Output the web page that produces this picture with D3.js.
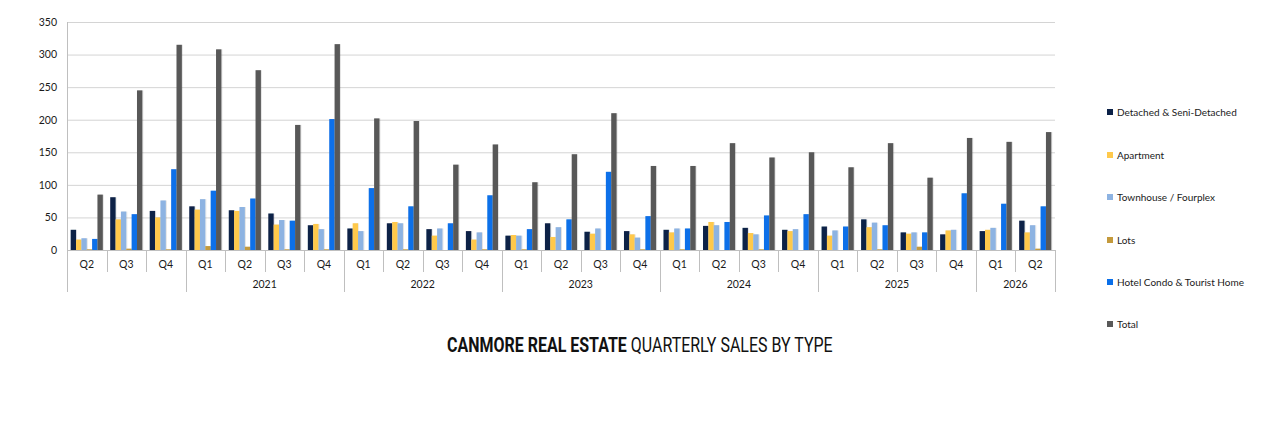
<!DOCTYPE html>
<html>
<head>
<meta charset="utf-8">
<script src="https://cdn.jsdelivr.net/npm/d3@7"></script>
<style>
  html, body { margin: 0; padding: 0; background: #ffffff; }
  svg { display: block; }
</style>
</head>
<body>
<svg id="chart" width="1280" height="421"></svg>
<script>
// ---------- DATA ----------
const quarters = ["Q2","Q3","Q4","Q1","Q2","Q3","Q4","Q1","Q2","Q3","Q4","Q1","Q2","Q3","Q4","Q1","Q2","Q3","Q4","Q1","Q2","Q3","Q4","Q1","Q2"];
const years    = ["2020","2020","2020","2021","2021","2021","2021","2022","2022","2022","2022","2023","2023","2023","2023","2024","2024","2024","2024","2025","2025","2025","2025","2026","2026"];
const yearLabels = [
  {year: "2020", label: ""},
  {year: "2021", label: "2021"},
  {year: "2022", label: "2022"},
  {year: "2023", label: "2023"},
  {year: "2024", label: "2024"},
  {year: "2025", label: "2025"},
  {year: "2026", label: "2026"}
];
const seriesNames = ["Detached & Seni-Detached","Apartment","Townhouse / Fourplex","Lots","Hotel Condo & Tourist Home","Total"];
const detached  = [31,81,60,67,61,56,38,33,41,32,29,22,41,28,29,31,37,34,31,36,47,27,24,29,45];
const apartment = [16,47,50,62,60,39,40,41,43,22,16,23,20,25,24,27,43,26,29,22,35,25,30,31,27];
const townhouse = [18,59,76,78,66,46,32,29,41,33,27,22,35,33,19,33,38,24,32,30,42,27,31,34,38];
const lots      = [1,2,1,6,5,1,1,0,1,0,1,1,0,0,1,1,0,1,0,0,1,5,0,0,2];
const hotel     = [17,55,124,91,79,45,201,95,67,41,84,32,47,120,52,33,43,53,55,36,38,27,87,71,67];
const total     = [85,245,315,308,276,192,316,202,198,131,162,104,147,210,129,129,164,142,150,127,164,111,172,166,181];
const yTicks = [0,50,100,150,200,250,300,350];
const colors = ["#0b2147","#ffc94c","#8db3e2","#c49a3c","#0a6fe9","#595959"];

// ---------- LAYOUT ----------
const svg = d3.select("#chart");
const pL = 67, pR = 1055, pT = 22, pB = 250;
const allSeries = [detached, apartment, townhouse, lots, hotel, total];

const x0 = d3.scaleBand().domain(d3.range(quarters.length)).range([pL, pR]).padding(0);
const x1 = d3.scaleBand().domain(d3.range(seriesNames.length)).range([0, x0.bandwidth()]).paddingInner(0).paddingOuter(0.69);
const yS = d3.scaleLinear().domain([0, 350]).range([pB, pT]);
const color = d3.scaleOrdinal().domain(seriesNames).range(colors);

const axisFont = "Lato, 'Open Sans', sans-serif";

// gridlines + y axis
const yAxis = d3.axisLeft(yS).tickValues(yTicks).tickSize(-(pR - pL)).tickPadding(10).tickFormat(d3.format("d"));
const gy = svg.append("g").attr("transform", `translate(${pL},0)`).call(yAxis);
gy.select(".domain").remove();
gy.selectAll(".tick line").attr("stroke", "#d4d4d4").attr("stroke-width", 1);
gy.selectAll(".tick text").attr("fill", "#1a1a1a").style("font-family", axisFont).style("font-size", "10.5px");

// bars
const defs = svg.append("defs");
const f = defs.append("filter").attr("id", "sh").attr("x", "-50%").attr("y", "-10%").attr("width", "200%").attr("height", "120%");
f.append("feDropShadow").attr("dx", 0.6).attr("dy", 0).attr("stdDeviation", 0.6).attr("flood-color", "#000").attr("flood-opacity", 0.18);

const groups = svg.append("g").selectAll("g").data(quarters.map((q, i) => i)).join("g")
  .attr("transform", i => `translate(${x0(i)},0)`);
groups.selectAll("rect")
  .data(i => allSeries.map((s, k) => ({k, v: s[i]})))
  .join("rect")
  .attr("x", d => x1(d.k))
  .attr("width", x1.bandwidth())
  .attr("y", d => yS(d.v))
  .attr("height", d => yS(0) - yS(d.v))
  .attr("fill", d => color(seriesNames[d.k]))
  .attr("filter", "url(#sh)");

// x axis line and separators
const axisColor = "#bfbfbf";
const gx = svg.append("g");
gx.append("line").attr("x1", pL).attr("x2", pR).attr("y1", pB + 0.5).attr("y2", pB + 0.5).attr("stroke", axisColor);
gx.append("line").attr("x1", pL + 0.5).attr("x2", pL + 0.5).attr("y1", pT).attr("y2", pB).attr("stroke", axisColor);

const yearStarts = [];
quarters.forEach((q, i) => { if (i === 0 || years[i] !== years[i - 1]) yearStarts.push(i); });
const boundaries = d3.range(quarters.length + 1);
boundaries.forEach(b => {
  const isYear = b === quarters.length || yearStarts.includes(b);
  const xx = b === quarters.length ? pR : x0(b);
  gx.append("line")
    .attr("x1", Math.round(xx) + 0.5).attr("x2", Math.round(xx) + 0.5)
    .attr("y1", pB).attr("y2", isYear ? 292 : 272)
    .attr("stroke", axisColor);
});

// quarter labels
gx.selectAll("text.q").data(quarters).join("text").attr("class", "q")
  .attr("x", (d, i) => x0(i) + x0.bandwidth() / 2)
  .attr("y", 268)
  .attr("text-anchor", "middle")
  .attr("fill", "#1a1a1a")
  .style("font-family", axisFont).style("font-size", "10.5px")
  .text(d => d);

// year labels
yearLabels.forEach(yl => {
  const idx = years.map((yy, i) => yy === yl.year ? i : -1).filter(i => i >= 0);
  const xm = (x0(idx[0]) + x0(idx[idx.length - 1]) + x0.bandwidth()) / 2;
  gx.append("text").attr("x", xm).attr("y", 288).attr("text-anchor", "middle")
    .attr("fill", "#1a1a1a").style("font-family", axisFont).style("font-size", "10.5px")
    .text(yl.label);
});

// legend
const legendY = [112, 155, 197, 240, 282, 324];
const lg = svg.append("g");
seriesNames.forEach((n, k) => {
  lg.append("rect").attr("x", 1107).attr("y", legendY[k] - 3).attr("width", 6).attr("height", 6).attr("fill", color(n));
  lg.append("text").attr("x", 1117).attr("y", legendY[k] + 3.6)
    .attr("fill", "#1a1a1a").style("font-family", axisFont).style("font-size", "10px").text(n);
});

// title (horizontally condensed to match the reference's narrow typeface)
const titleG = svg.append("g");
const title = titleG.append("text").attr("x", 0).attr("y", 0).attr("text-anchor", "start")
  .style("font-family", "Roboto, 'Open Sans', sans-serif")
  .style("font-size", "20px").attr("fill", "#111");
title.append("tspan").style("font-weight", "bold").text("CANMORE REAL ESTATE");
title.append("tspan").style("font-weight", "normal").text(" QUARTERLY SALES BY TYPE");
const tw = title.node().getComputedTextLength();
const targetW = 386;
const sx = targetW / tw;
titleG.attr("transform", `translate(${640 - targetW / 2},352) scale(${sx},1)`);
</script>
</body>
</html>
